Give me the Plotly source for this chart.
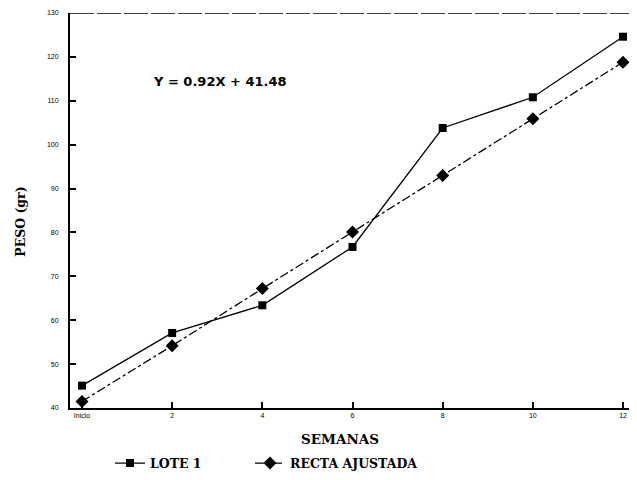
import plotly.graph_objects as go

weeks = [0, 2, 4, 6, 8, 10, 12]
week_labels = ["Inicio", "2", "4", "6", "8", "10", "12"]
lote1 = [45.1, 57.1, 63.4, 76.7, 103.8, 110.8, 124.6]
recta = [41.5, 54.2, 67.2, 80.1, 93.0, 105.9, 118.8]
y_ticks = [40, 50, 60, 70, 80, 90, 100, 110, 120, 130]
equation = "Y = 0.92X + 41.48"

# page is rendered with an 8px body margin; figure coords = page coords - 8
W, H = 629, 472
L, R, T, B = 62, 0, 5, 71.5
PW, PH = W - L - R, H - T - B


def px(xp):
    return (xp - 8 - L) / PW


def py(yp):
    return (H - B - (yp - 8)) / PH


fig = go.Figure()
fig.add_trace(go.Scatter(
    x=weeks, y=lote1, mode="lines+markers", name="<b>LOTE 1</b>",
    line=dict(color="black", width=1.3),
    marker=dict(symbol="square", size=8, color="black"),
    legend="legend",
))
fig.add_trace(go.Scatter(
    x=weeks, y=recta, mode="lines+markers", name="<b>RECTA AJUSTADA</b>",
    line=dict(color="black", width=1.3, dash="dashdot"),
    marker=dict(symbol="diamond", size=10, color="black"),
    legend="legend2",
))

leg_common = dict(orientation="h", yanchor="middle", xanchor="left",
                  font=dict(family="DejaVu Serif", size=12.5, color="black"),
                  itemwidth=30, bgcolor="rgba(0,0,0,0)")
fig.update_layout(
    width=W, height=H,
    margin=dict(l=L, r=R, t=T, b=B),
    paper_bgcolor="white", plot_bgcolor="white",
    showlegend=True,
    legend=dict(x=px(110), y=py(464), **leg_common),
    legend2=dict(x=px(250), y=py(464), **leg_common),
    font=dict(family="Liberation Sans", color="black"),
)
fig.update_xaxes(
    range=[-0.266, 12.31], tickvals=weeks, ticktext=week_labels,
    showgrid=False, zeroline=False, showline=True, linecolor="black", linewidth=2,
    ticks="inside", ticklen=6, tickcolor="black", tickwidth=1.5,
    tickfont=dict(family="Liberation Sans", size=7, color="black"),
)
fig.update_yaxes(
    range=[40, 130], tickvals=y_ticks,
    showgrid=False, zeroline=False, showline=True, linecolor="black", linewidth=2,
    ticks="inside", ticklen=6, tickcolor="black", tickwidth=1.5,
    tickfont=dict(family="Liberation Sans", size=7, color="black"),
    ticklabelstandoff=8,
)
fig.add_shape(type="line", xref="paper", yref="y", x0=0, x1=1, y0=130, y1=130,
              line=dict(color="black", width=1.5, dash="24px,3px"))
fig.add_annotation(text="<b>" + equation + "</b>", xref="paper", yref="paper",
                   x=px(220), y=py(82), xanchor="center", yanchor="middle",
                   showarrow=False,
                   font=dict(family="DejaVu Sans", size=13, color="black"))
fig.add_annotation(text="<b>SEMANAS</b>", xref="paper", yref="paper",
                   x=px(340), y=py(440), xanchor="center", yanchor="middle",
                   showarrow=False,
                   font=dict(family="DejaVu Serif", size=13.5, color="black"))
fig.add_annotation(text="<b>PESO (gr)</b>", xref="paper", yref="paper",
                   x=px(21), y=py(222), xanchor="center", yanchor="middle",
                   showarrow=False, textangle=-90,
                   font=dict(family="DejaVu Serif", size=12.5, color="black"))

fig.write_html("out.html")
